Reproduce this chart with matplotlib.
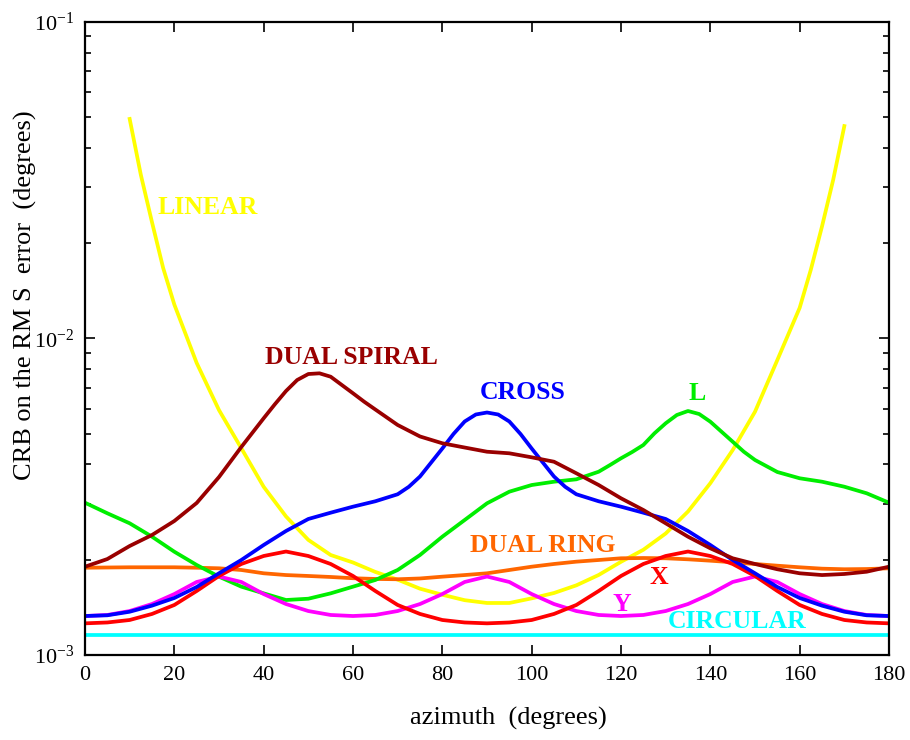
import numpy as np
import matplotlib
matplotlib.use("Agg")
import matplotlib.pyplot as plt

plt.rcParams['font.family'] = ['Liberation Serif', 'DejaVu Serif']
plt.rcParams['mathtext.fontset'] = 'custom'
plt.rcParams['mathtext.rm'] = 'Liberation Serif'
plt.rcParams['mathtext.it'] = 'Liberation Serif:italic'

# azimuth grids (degrees)
az = list(range(0, 181, 5))
az_linear = [10, 12.5, 15, 17.5, 20, 25, 30, 35, 40, 45, 50, 55, 60, 65, 70,
             75, 80, 85, 90, 95, 100, 105, 110, 115, 120, 125, 130, 135, 140,
             145, 150, 155, 160, 162.5, 165, 167.5, 170]
az_spiral = [0, 5, 10, 15, 20, 25, 30, 35, 40, 42.5, 45, 47.5, 50, 52.5, 55,
             57.5, 60, 62.5, 65, 70, 75, 80, 85, 90, 95, 100, 105, 110, 115,
             120, 125, 130, 135, 140, 145, 150, 155, 160, 165, 170, 175, 180]
az_cross = [0, 5, 10, 15, 20, 25, 30, 35, 40, 45, 50, 55, 60, 65, 70, 72.5,
            75, 77.5, 80, 82.5, 85, 87.5, 90, 92.5, 95, 97.5, 100, 102.5, 105,
            107.5, 110, 115, 120, 125, 130, 135, 140, 145, 150, 155, 160, 165,
            170, 175, 180]
az_l = [0, 5, 10, 15, 20, 25, 30, 35, 40, 45, 50, 55, 60, 65, 70, 75, 80, 85,
        90, 95, 100, 105, 110, 115, 117.5, 120, 122.5, 125, 127.5, 130, 132.5,
        135, 137.5, 140, 142.5, 145, 147.5, 150, 155, 160, 165, 170, 175, 180]

# CRB values, in units of 1e-3 degrees
circular = [1.16] * len(az)

linear = [49.4, 32.9, 23.3, 16.7, 12.8, 8.37, 5.94, 4.50, 3.40, 2.74, 2.31,
          2.07, 1.96, 1.83, 1.73, 1.62, 1.55, 1.49, 1.46, 1.46, 1.51, 1.57,
          1.66, 1.79, 1.97, 2.15, 2.42, 2.84, 3.49, 4.44, 5.87, 8.55, 12.5,
          16.5, 22.6, 31.7, 46.9]

dual_spiral = [1.901, 2.010, 2.210, 2.394, 2.651, 3.022, 3.650, 4.542, 5.597,
               6.196, 6.824, 7.393, 7.723, 7.762, 7.573, 7.130, 6.713, 6.314,
               5.966, 5.330, 4.903, 4.666, 4.524, 4.388, 4.338, 4.213, 4.080,
               3.751, 3.444, 3.127, 2.872, 2.607, 2.365, 2.173, 2.021, 1.939,
               1.866, 1.812, 1.789, 1.803, 1.833, 1.901]

cross = [1.328, 1.335, 1.370, 1.432, 1.514, 1.640, 1.812, 1.996, 2.226, 2.465,
         2.690, 2.816, 2.942, 3.060, 3.220, 3.400, 3.664, 4.057, 4.492, 4.993,
         5.467, 5.753, 5.837, 5.753, 5.467, 4.993, 4.492, 4.057, 3.664, 3.400,
         3.220, 3.060, 2.942, 2.816, 2.690, 2.465, 2.226, 1.996, 1.812, 1.640,
         1.514, 1.432, 1.370, 1.335, 1.328]

l_array = [3.028, 2.804, 2.607, 2.365, 2.120, 1.925, 1.768, 1.644, 1.566,
           1.492, 1.506, 1.566, 1.644, 1.726, 1.856, 2.070, 2.365, 2.670,
           3.015, 3.281, 3.444, 3.528, 3.590, 3.794, 3.980, 4.183, 4.379,
           4.608, 5.018, 5.396, 5.732, 5.901, 5.773, 5.459, 5.076, 4.720,
           4.388, 4.132, 3.786, 3.617, 3.528, 3.402, 3.243, 3.028]

dual_ring = [1.887, 1.890, 1.893, 1.893, 1.893, 1.887, 1.879, 1.856, 1.812,
             1.789, 1.777, 1.764, 1.748, 1.739, 1.735, 1.745, 1.768, 1.789,
             1.812, 1.856, 1.901, 1.939, 1.972, 1.996, 2.021, 2.025, 2.021,
             2.006, 1.986, 1.963, 1.939, 1.915, 1.893, 1.874, 1.866, 1.869,
             1.879]

x_array = [1.259, 1.267, 1.290, 1.348, 1.439, 1.593, 1.777, 1.939, 2.055,
           2.123, 2.055, 1.939, 1.777, 1.593, 1.439, 1.348, 1.290, 1.267,
           1.259, 1.267, 1.290, 1.348, 1.439, 1.593, 1.777, 1.939, 2.055,
           2.123, 2.055, 1.939, 1.777, 1.593, 1.439, 1.348, 1.290, 1.267,
           1.259]

y_array = [1.328, 1.338, 1.377, 1.449, 1.558, 1.701, 1.770, 1.701, 1.558,
           1.449, 1.377, 1.338, 1.328, 1.338, 1.377, 1.449, 1.558, 1.701,
           1.770, 1.701, 1.558, 1.449, 1.377, 1.338, 1.328, 1.338, 1.377,
           1.449, 1.558, 1.701, 1.770, 1.701, 1.558, 1.449, 1.377, 1.338,
           1.328]

# (name, x, y, colour, label x, label y, alignment)
series = [
    ("CIRCULAR", az, circular, "#00FFFF", 130.5, 1.272, "left"),
    ("LINEAR", az_linear, linear, "#FFFF00", 16.3, 26.0, "left"),
    ("DUAL RING", az, dual_ring, "#FF6600", 86.2, 2.21, "left"),
    ("L", az_l, l_array, "#00EE00", 137.0, 6.7, "center"),
    ("Y", az, y_array, "#FF00FF", 120.2, 1.449, "center"),
    ("X", az, x_array, "#FF0000", 128.5, 1.751, "center"),
    ("CROSS", az_cross, cross, "#0000FF", 88.4, 6.73, "left"),
    ("DUAL SPIRAL", az_spiral, dual_spiral, "#990000", 40.3, 8.74, "left"),
]

fig = plt.figure(figsize=(9.1, 7.4), dpi=100)
ax = fig.add_axes([85 / 910, 85 / 740, 804 / 910, 633 / 740])

for name, xs, ys, col, lx, ly, ha in series:
    ax.plot(xs, np.array(ys) * 1e-3, color=col, lw=2.7,
            solid_joinstyle='round')
    ax.text(lx, ly * 1e-3, name, color=col, fontsize=18.5, fontweight='bold',
            ha=ha, va='center')

ax.set_yscale('log')
ax.set_xlim(0, 180)
ax.set_ylim(1e-3, 1e-1)
ax.set_xticks(np.arange(0, 181, 20))
ax.set_yticks([1e-3, 1e-2, 1e-1])
ax.set_yticklabels([r'$10^{-3}$', r'$10^{-2}$', r'$10^{-1}$'])
ax.tick_params(which='both', direction='in', top=True, right=True,
               labelsize=16, width=1.2)
ax.tick_params(which='major', length=7, pad=8)
ax.tick_params(which='minor', length=4.5)
ax.tick_params(axis='x', which='minor', bottom=False, top=False)
for s in ax.spines.values():
    s.set_linewidth(1.6)

fig.text(508 / 910, 1 - 718 / 740, "azimuth  (degrees)", fontsize=19,
         ha='center', va='center')
fig.text(25 / 910, 1 - 295 / 740, "CRB on the RM S  error  (degrees)",
         fontsize=19, rotation=90, ha='center', va='center')

fig.savefig("out.png", dpi=100)
